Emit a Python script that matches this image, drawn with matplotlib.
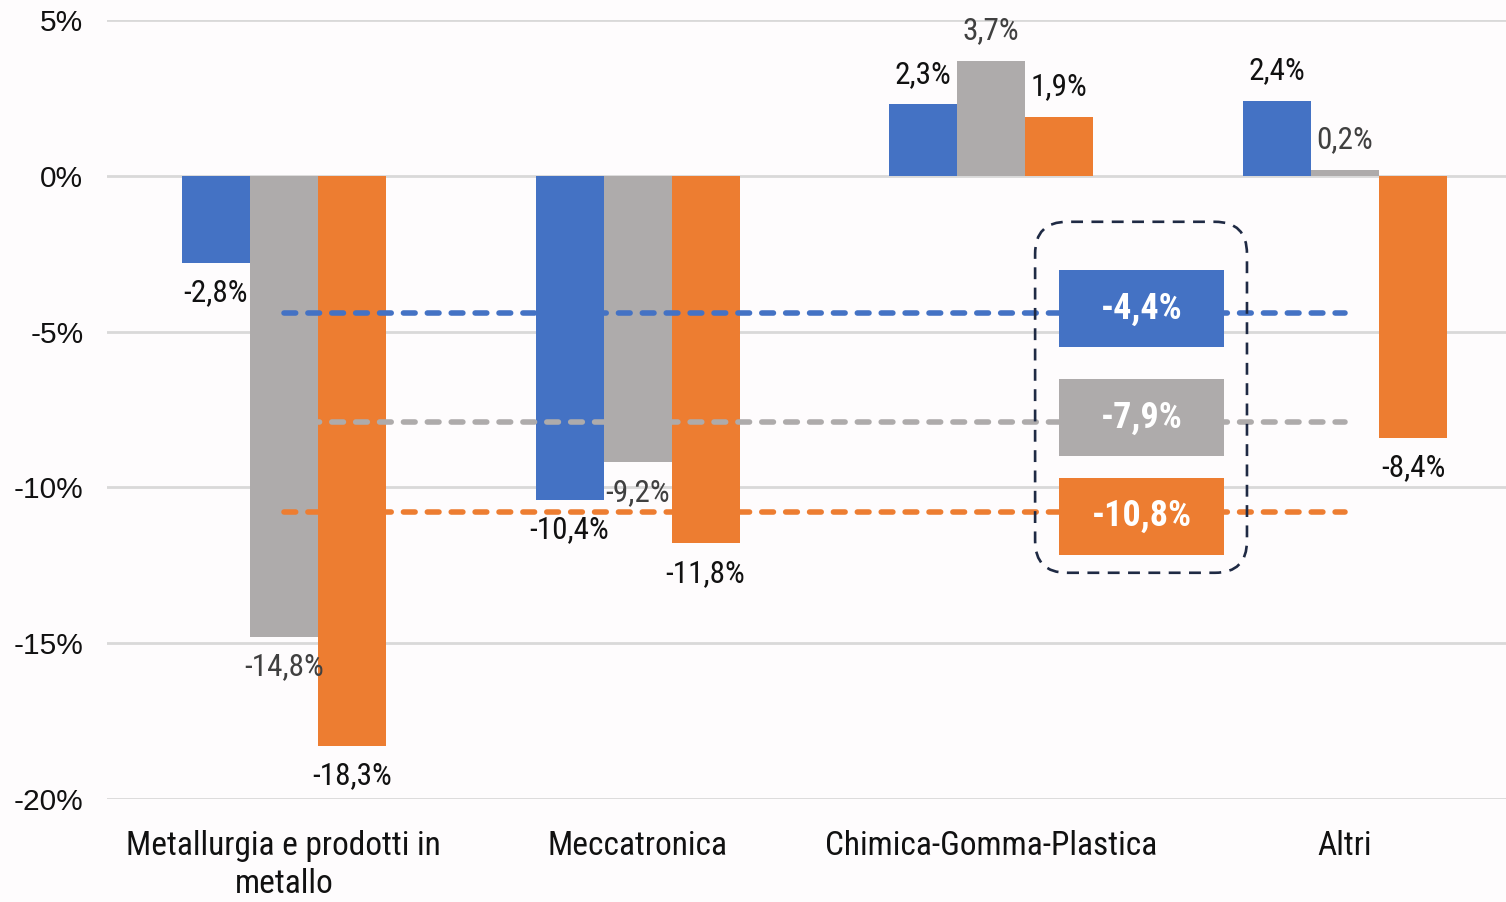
import matplotlib
matplotlib.use("Agg")
import matplotlib.pyplot as plt
from matplotlib.patches import Rectangle, FancyBboxPatch
from matplotlib.transforms import IdentityTransform

categories = ["Metallurgia e prodotti in\nmetallo", "Meccatronica",
              "Chimica-Gomma-Plastica", "Altri"]
series_blue = [-2.8, -10.4, 2.3, 2.4]
series_gray = [-14.8, -9.2, 3.7, 0.2]
series_orange = [-18.3, -11.8, 1.9, -8.4]
averages = [-4.4, -7.9, -10.8]
yticks = [5, 0, -5, -10, -15, -20]

BLUE = "#4472C4"
GRAY = "#AEABAB"
ORANGE = "#ED7D31"
BG = "#FEFCFD"

narrow = ["Roboto Condensed", "DejaVu Sans"]
regular = ["Liberation Sans", "DejaVu Sans"]


def fmt(v):
    return f"{v:.1f}".replace(".", ",") + "%"


fig = plt.figure(figsize=(15.06, 9.02), dpi=100, facecolor=BG)
W, H = 1506, 902
left_px, top_px, bottom_px = 107, 20, 799
step_px = 353.7
ax = fig.add_axes([left_px / W, 1 - bottom_px / H, (W - left_px) / W,
                   (bottom_px - top_px) / H])
ax.set_facecolor(BG)
x_right = -0.5 + (W - left_px) / step_px
ax.set_xlim(-0.5, x_right)
ax.set_ylim(-20, 5)

for s in ax.spines.values():
    s.set_visible(False)
ax.set_yticks(yticks)
ax.set_yticklabels([f"{t}%" for t in yticks], fontfamily=regular, fontsize=21.5,
                   color="#111111")
ax.tick_params(axis="y", length=0, pad=17)
ax.set_xticks(range(len(categories)))
ax.set_xticklabels(categories, fontfamily=narrow, fontsize=24, color="#111111",
                   linespacing=1.25)
ax.tick_params(axis="x", length=0, pad=22)
for t in yticks:
    ax.axhline(t, color="#D9D9D9", lw=2, zorder=0)

bw = 68 / step_px
series = [(series_blue, BLUE, "#111111"), (series_gray, GRAY, "#404040"),
          (series_orange, ORANGE, "#111111")]
px_per_unit = (bottom_px - top_px) / 25.0
off = 30 / px_per_unit
for j, (vals, col, tcol) in enumerate(series):
    xs = [i + (j - 1) * bw for i in range(len(vals))]
    ax.bar(xs, vals, width=bw, color=col, zorder=2)
    for x, v in zip(xs, vals):
        y = v + off if v >= 0 else v - off
        ax.text(x, y, fmt(v), ha="center", va="center", fontsize=22.5,
                fontfamily=narrow, color=tcol, zorder=5)

# average reference lines
avg_cols = [BLUE, GRAY, ORANGE]
for a, col in zip(averages, avg_cols):
    ax.plot([0, 3], [a, a], color=col, lw=4, ls=(0, (2.1, 2.2)),
            dash_capstyle="round", zorder=3)

# labelled boxes for the averages (small vertical nudges in pixels)
box_cx = 2.426
box_w = 165 / step_px
box_h = 77 / px_per_unit
box_shift_px = [4, 4, -4]
for a, col, sh in zip(averages, avg_cols, box_shift_px):
    yc = a + sh / px_per_unit
    ax.add_patch(Rectangle((box_cx - box_w / 2, yc - box_h / 2), box_w, box_h,
                           facecolor=col, edgecolor="none", zorder=4))
    ax.text(box_cx, yc, fmt(a), ha="center", va="center", color="white",
            fontsize=26, fontweight="bold", fontfamily=narrow, zorder=5)

# dashed rounded frame around the average boxes
fig.canvas.draw()
(x0, y0) = ax.transData.transform((2.124, -12.74))
(x1, y1) = ax.transData.transform((2.723, -1.476))
frame = FancyBboxPatch((x0, y0), x1 - x0, y1 - y0,
                       boxstyle="round,pad=0,rounding_size=32",
                       transform=IdentityTransform(), fill=False,
                       edgecolor="#1F2A44", lw=1.9, ls=(0, (4.5, 3.2)),
                       zorder=6)
fig.add_artist(frame)

fig.savefig("out.png", dpi=100, facecolor=BG)
